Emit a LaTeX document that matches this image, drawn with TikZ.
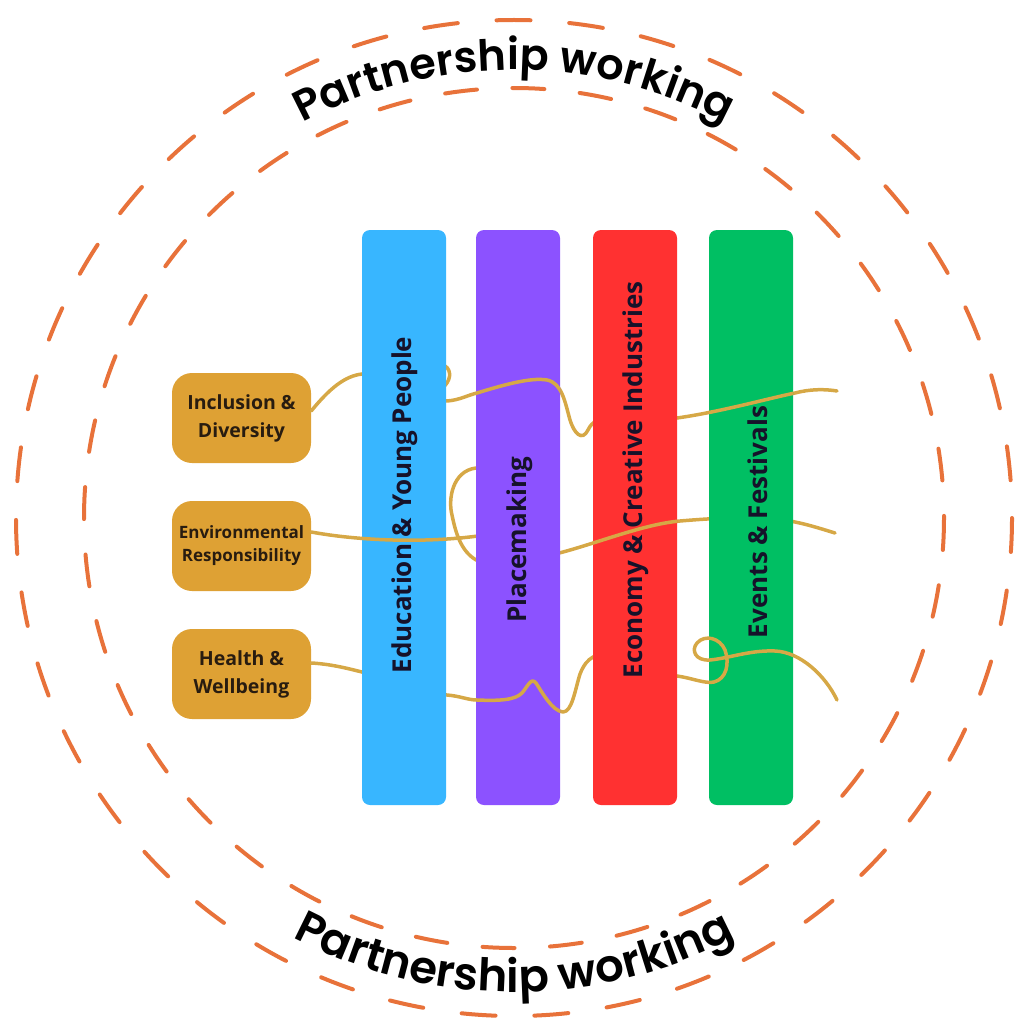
\documentclass[tikz,border=0pt]{standalone}
\usepackage{fontspec}
\setmainfont{Open Sans}
\IfFontExistsTF{Poppins SemiBold}
  {\newfontfamily\curvefont{Poppins SemiBold}}
  {\newfontfamily\curvefont{Poppins}[FakeBold=1.5]}
\usetikzlibrary{decorations.text}
\definecolor{cblue}{HTML}{38B6FF}
\definecolor{cpurple}{HTML}{8C52FF}
\definecolor{cred}{HTML}{FF3131}
\definecolor{cgreen}{HTML}{00BF63}
\definecolor{cgold}{RGB}{222,161,52}
\definecolor{cgline}{RGB}{214,168,70}
\definecolor{corange}{RGB}{232,114,58}
\definecolor{cboxtext}{RGB}{40,28,16}
\definecolor{cbartext}{RGB}{22,18,42}
\tikzset{
  bar/.style={minimum width=84pt, minimum height=575pt, inner sep=0pt, rounded corners=8pt},
  bartext/.style={rotate=90, font=\bfseries\fontsize{26}{30}\selectfont, text=cbartext, inner sep=0pt},
  gbox/.style={fill=cgold, rounded corners=20pt, minimum width=139pt, minimum height=90pt, inner sep=0pt, align=center, text=cboxtext},
  gline/.style={draw=cgline, line width=3.5pt, line cap=round, line join=round},
  outerring/.style={draw=corange, line width=4pt, line cap=round, dash pattern=on 34pt off 38.8pt},
  innerring/.style={draw=corange, line width=4pt, line cap=round, dash pattern=on 32pt off 35.5pt},
}
\begin{document}
\begin{tikzpicture}[x=1pt,y=-1pt]
\useasboundingbox (0,0) rectangle (1014,1022);
\coordinate (c) at (514,518);
\draw[outerring] (c) circle[radius=498];
\draw[innerring] (c) circle[radius=430];
% curved labels
\path[decorate, decoration={text along path, text align=center,
  text={|\curvefont\fontsize{43}{50}\selectfont|Partnership working}}]
  (126,294) arc[start angle=210, end angle=330, radius=448];
\path[decorate, decoration={text along path, text align=center,
  text={|\curvefont\fontsize{45}{52}\selectfont|Partnership working}}]
  (103.5,755) arc[start angle=150, end angle=30, radius=474];
% side boxes
\node[gbox, font=\bfseries\fontsize{19.5}{28}\selectfont] (incl) at (241.5,418) {Inclusion \&\\Diversity};
\node[gbox, font=\bfseries\fontsize{17}{23}\selectfont] (env) at (241.5,546) {Environmental\\Responsibility};
\node[gbox, font=\bfseries\fontsize{19.5}{28}\selectfont] (health) at (241.5,674) {Health \&\\Wellbeing};
% paths
\def\pathA{([yshift=7pt]incl.east) .. controls (330,388) and (345,376) .. (362,374)
 .. controls (400,370) and (432,360) .. (445,366)
 .. controls (452,370) and (451,382) .. (442,388)
 .. controls (436,393) and (438,401) .. (447,401)
 .. controls (460,400) and (468,395) .. (477,393)
 .. controls (500,386) and (530,377) .. (547,380)
 .. controls (562,383) and (565,402) .. (570,420)
 .. controls (574,433) and (582,442) .. (588,430)
 .. controls (592,421) and (600,418) .. (612,418)
 .. controls (640,418) and (660,419) .. (677,418)
 .. controls (720,412) and (770,398) .. (795,393)
 .. controls (810,389) and (825,389) .. (837,391)}
\def\pathB{([yshift=14pt]env.east) .. controls (360,541) and (425,543) .. (478,536)
 .. controls (525,530) and (520,463) .. (476,468)
 .. controls (452,471) and (448,500) .. (452,515)
 .. controls (456,535) and (462,553) .. (478,561)
 .. controls (500,572) and (540,558) .. (563,552)
 .. controls (600,542) and (645,524) .. (680,521)
 .. controls (715,518) and (765,515) .. (795,522)
 .. controls (810,525) and (825,530) .. (835,533)}
\def\pathC{([yshift=11pt]health.east) .. controls (330,664) and (346,668) .. (362,672)
 .. controls (400,682) and (420,694) .. (447,695)
 .. controls (460,696) and (468,700) .. (477,700)
 .. controls (500,701) and (515,700) .. (522,693)
 .. controls (528,686) and (531,677) .. (536,683)
 .. controls (542,692) and (552,711) .. (563,712)
 .. controls (572,712) and (575,690) .. (580,674)
 .. controls (584,664) and (588,660) .. (593,657)
 .. controls (620,650) and (650,673) .. (677,676)
 .. controls (692,678) and (705,684) .. (714,682)
 .. controls (726,679) and (730,664) .. (725,650)
 .. controls (720,638) and (705,634) .. (697,643)
 .. controls (691,650) and (695,661) .. (710,660)
 .. controls (730,658) and (750,650) .. (775,651)
 .. controls (800,652) and (825,675) .. (837,700)}
\draw[gline] \pathA;
\draw[gline] \pathB;
\draw[gline] \pathC;
% bars
\node[bar, fill=cblue] (edu) at (404,517.5) {};
\node[bar, fill=cpurple] (place) at (518,517.5) {};
\node[bar, fill=cred] (econ) at (635,517.5) {};
\node[bar, fill=cgreen] (events) at (751,517.5) {};
\node[bartext] (edut) at (405,505) {Education \& Young People};
\node[bartext] (placet) at (520,540) {Placemaking};
\node[bartext] (econt) at (636,480) {Economy \& Creative Industries};
\node[bartext] (eventst) at (758,522) {Events \& Festivals};
% weaving: lines passing over bars
\begin{scope}
\clip (edu.south west) rectangle (edu.north east);
\draw[gline] \pathB;
\end{scope}
\begin{scope}
\clip (place.south west) rectangle (place.north east);
\draw[gline] \pathA;
\draw[gline] \pathC;
\end{scope}
\begin{scope}
\clip (econ.south west) rectangle (econ.north east);
\draw[gline] \pathB;
\end{scope}
\begin{scope}
\clip (events.south west) rectangle (events.north east);
\draw[gline] \pathA;
\draw[gline] \pathC;
\end{scope}
\end{tikzpicture}
\end{document}
